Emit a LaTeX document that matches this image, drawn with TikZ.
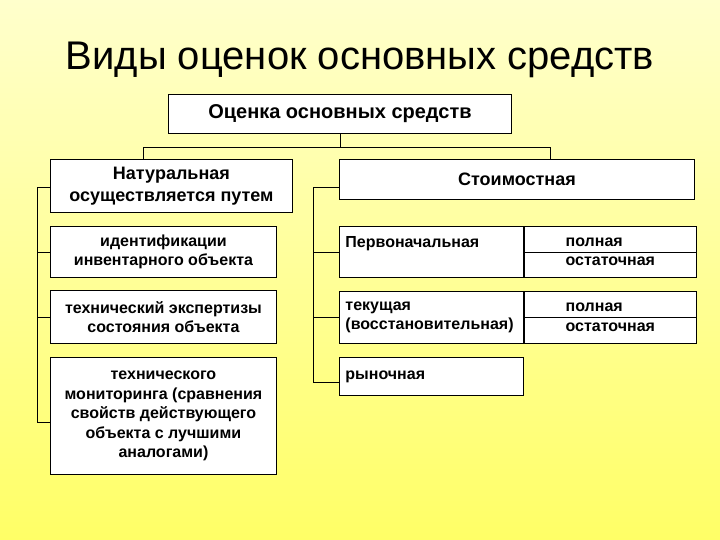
\documentclass[tikz,border=0pt]{standalone}
\usepackage{fontspec}
\setmainfont{Liberation Sans}
\usetikzlibrary{positioning}
\definecolor{bgtop}{RGB}{255,255,204}
\definecolor{bgbot}{RGB}{255,255,102}
\hyphenpenalty=10000
\begin{document}
\begin{tikzpicture}[x=1pt, y=-1pt,
    box/.style={draw, fill=white, line width=0.9pt, inner sep=0pt, anchor=north west,
      align=center, font=\bfseries\fontsize{16}{19.5}\selectfont},
    headbox/.style={box, font=\bfseries\fontsize{18}{22}\selectfont},
    leftbox/.style={box, align=left, text width=172pt, inner xsep=6pt, minimum width=184pt},
    link/.style={line width=0.9pt}]
    % 1. Фон и рамка картинки
    \shade[top color=bgtop, bottom color=bgbot] (0,0) rectangle (720,540);
    \useasboundingbox (0,0) rectangle (720,540);

    % 2. Заголовок
    \node[anchor=base] (title) at (360,70) {\fontsize{40}{48}\selectfont Виды оценок основных средств};

    % 3. Верхние блоки
    \node[headbox, font=\bfseries\fontsize{20}{24}\selectfont, minimum width=343pt, minimum height=39pt] (top) at (168,94) {Оценка основных средств};
    \node[headbox, minimum width=242pt, minimum height=53pt] (nat) at (50,159) {Натуральная\\осуществляется путем};
    \node[headbox, minimum width=355pt, minimum height=40pt] (stoim) at (339,159) {Стоимостная};

    % 4. Натуральная оценка (слева)
    \node[box, minimum width=226pt, minimum height=51pt] (ident) at (50,226) {идентификации\\инвентарного объекта};
    \node[box, minimum width=226pt, minimum height=53pt] (expert) at (50,290) {технический экспертизы\\состояния объекта};
    \node[box, minimum width=226pt, minimum height=117pt] (monit) at (50,357)
      {технического\\мониторинга (сравнения\\свойств действующего\\объекта с лучшими\\аналогами)};

    % 5. Стоимостная оценка (справа)
    \node[leftbox, minimum height=51pt] (perv) at (339,226) {Первоначальная\\\mbox{}};
    \node[box, align=left, minimum width=172pt, minimum height=51pt] (pervsub) at (perv.north east) {полная\\остаточная};
    \node[leftbox, minimum height=52pt] (tek) at (339,291) {текущая\\(восстановительная)};
    \node[box, align=left, minimum width=172pt, minimum height=52pt] (teksub) at (tek.north east) {полная\\остаточная};
    \node[leftbox, minimum height=38pt] (rynok) at (339,357) {рыночная};
    \draw[link] (pervsub.west) -- (pervsub.east);
    \draw[link] (teksub.west) -- (teksub.east);

    % 6. Соединительные линии
    \coordinate (busL) at (143,147);
    \coordinate (busR) at (550,147);
    \coordinate (lbus) at (37,187);
    \coordinate (rbus) at (313,187);
    \draw[link] (top.south) -- (top.south |- busL);
    \draw[link] (busL |- nat.north) -- (busL) -- (busR) -- (busR |- stoim.north);
    \draw[link] (nat.west |- lbus) -- (lbus) |- ([yshift=-6pt]monit.west);
    \draw[link] (ident.west) -- (ident.west -| lbus);
    \draw[link] (expert.west) -- (expert.west -| lbus);
    \draw[link] (stoim.west |- rbus) -- (rbus) |- ([yshift=-6pt]rynok.west);
    \draw[link] (perv.west) -- (perv.west -| rbus);
    \draw[link] (tek.west) -- (tek.west -| rbus);

\end{tikzpicture}
\end{document}
